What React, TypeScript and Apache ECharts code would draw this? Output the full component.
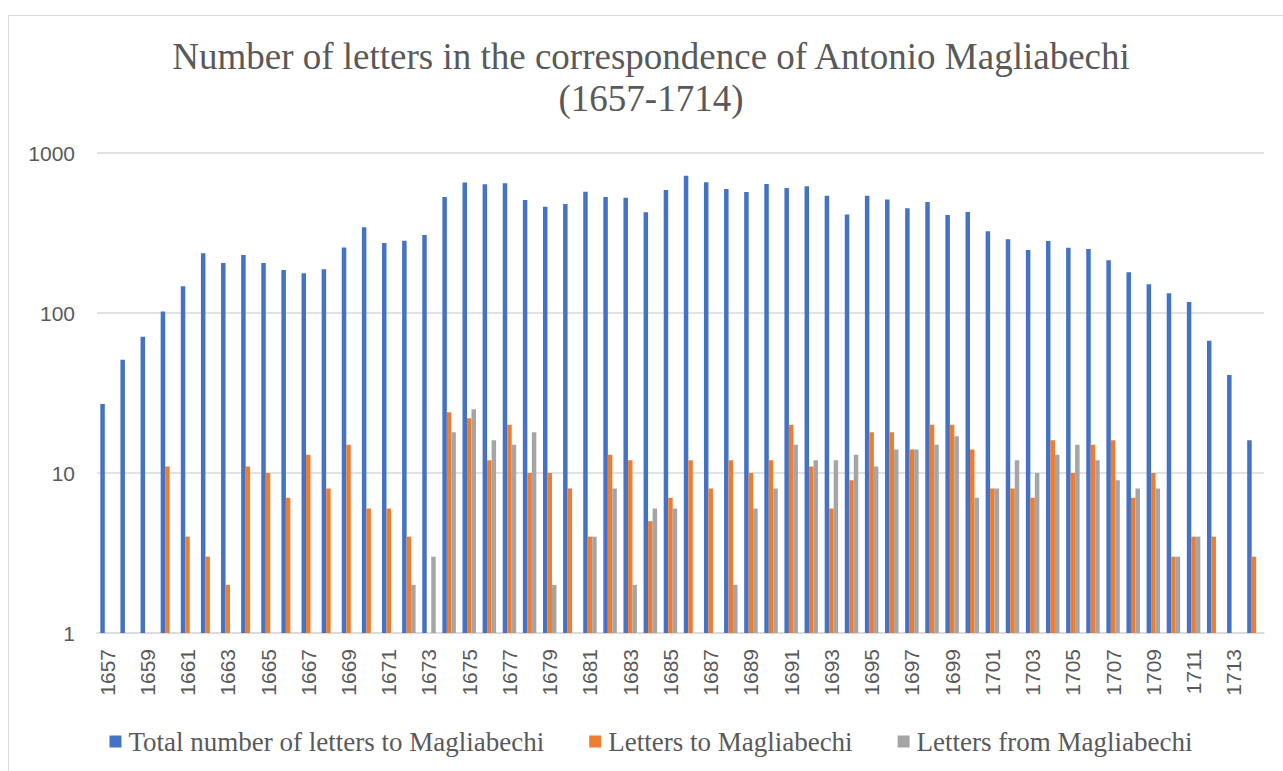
import React, { useEffect, useRef } from "react";
import * as echarts from "echarts";

const years: string[] = [];
for (let y = 1657; y <= 1714; y++) years.push(String(y));

const totalLetters = [
  27, 51, 71, 102, 147, 236, 205, 230, 205, 186, 177, 188, 257, 343, 274,
  283, 307, 531, 653, 637, 646, 508, 462, 480, 573, 531, 526, 426, 587,
  721, 656, 596, 571, 640, 604, 619, 541, 412, 541, 513, 451, 494, 410,
  428, 324, 289, 248, 282, 256, 251, 214, 180, 151, 133, 117, 67, 41, 16,
];

const lettersTo = [
  null, null, null, 11, 4, 3, 2, 11, 10, 7, 13, 8, 15, 6, 6,
  4, null, 24, 22, 12, 20, 10, 10, 8, 4, 13, 12, 5, 7,
  12, 8, 12, 10, 12, 20, 11, 6, 9, 18, 18, 14, 20, 20,
  14, 8, 8, 7, 16, 10, 15, 16, 7, 10, 3, 4, 4, null, 3,
];

const lettersFrom = [
  null, null, null, null, null, null, null, null, null, null, null, null, null, null, null,
  2, 3, 18, 25, 16, 15, 18, 2, null, 4, 8, 2, 6, 6,
  null, null, 2, 6, 8, 15, 12, 12, 13, 11, 14, 14, 15, 17,
  7, 8, 12, 10, 13, 15, 12, 9, 8, 8, 3, 4, null, null, null,
];

const seriesNames = [
  "Total number of letters to Magliabechi",
  "Letters to Magliabechi",
  "Letters from Magliabechi",
];
const colors = ["#4472C4", "#ED7D31", "#A5A5A5"];

export default function App() {
  const ref = useRef<HTMLDivElement>(null);
  useEffect(() => {
    if (!ref.current) return;
    const chart = echarts.init(ref.current, undefined, { renderer: "svg" });
    const serif = "Liberation Serif";
    const sans = "Liberation Sans";
    chart.setOption({
      animation: false,
      color: colors,
      title: {
        text: "Number of letters in the correspondence of Antonio Magliabechi\n(1657-1714)",
        left: "center",
        top: 14,
        textStyle: {
          fontFamily: serif,
          fontWeight: "normal",
          fontSize: 37,
          lineHeight: 42,
          color: "#595959",
        },
      },
      legend: {
        data: seriesNames,
        left: "center",
        top: 707,
        itemWidth: 12,
        itemHeight: 12,
        itemGap: 45,
        icon: "rect",
        textStyle: { fontFamily: serif, fontSize: 27, color: "#595959", padding: [0, 0, 0, 2] },
      },
      grid: { left: 88, top: 137, width: 1167, height: 480, containLabel: false },
      xAxis: {
        type: "category",
        data: years,
        axisLine: { lineStyle: { color: "#D9D9D9", width: 1.5 } },
        axisTick: { show: false },
        axisLabel: {
          interval: 1,
          rotate: 90,
          fontFamily: sans,
          fontSize: 21,
          color: "#595959",
          margin: 16,
        },
      },
      yAxis: {
        type: "log",
        logBase: 10,
        min: 1,
        max: 1000,
        axisLine: { show: false },
        axisTick: { show: false },
        splitLine: { lineStyle: { color: "#D9D9D9", width: 1.5 } },
        axisLabel: {
          fontFamily: sans,
          fontSize: 21,
          color: "#595959",
          margin: 22,
          formatter: (v: number) => String(Math.round(v)),
        },
      },
      series: [
        { name: seriesNames[0], type: "bar", data: totalLetters, barGap: "0%", barCategoryGap: "33%" },
        { name: seriesNames[1], type: "bar", data: lettersTo, barGap: "0%", barCategoryGap: "33%" },
        { name: seriesNames[2], type: "bar", data: lettersFrom, barGap: "0%", barCategoryGap: "33%" },
      ],
    });
    return () => chart.dispose();
  }, []);
  return (
    <div
      style={{
        position: "fixed",
        left: 0,
        top: 0,
        width: 1283,
        height: 771,
        overflow: "hidden",
        background: "#fff",
      }}
    >
      <div
        style={{
          position: "absolute",
          left: 8,
          top: 15,
          width: 1284,
          height: 780,
          border: "1px solid #D9D9D9",
        }}
      >
        <div ref={ref} style={{ width: 1284, height: 780 }} />
      </div>
    </div>
  );
}
